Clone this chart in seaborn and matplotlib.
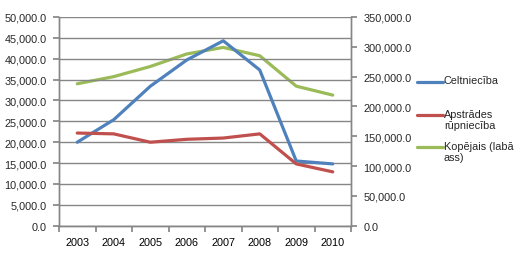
import matplotlib
matplotlib.use("Agg")
import matplotlib.pyplot as plt
from matplotlib.lines import Line2D
from matplotlib.ticker import FuncFormatter, FixedLocator
import seaborn as sns
import pandas as pd
import numpy as np

years = ["2003", "2004", "2005", "2006", "2007", "2008", "2009", "2010"]
celtnieciba = [20000, 25400, 33400, 39700, 44300, 37300, 15500, 14800]
apstrades = [22200, 22000, 20000, 20700, 21000, 22000, 14800, 12900]
kopejais = [238000, 250000, 267000, 288000, 299000, 285000, 234000, 219000]

labels = ["Celtniecība", "Apstrādes\nrūpniecība", "Kopējais (labā\nass)"]
colors = ["#4F81BD", "#C0504D", "#9BBB59"]

sns.set_theme(style="white")
plt.rcParams["font.family"] = ["Liberation Sans", "DejaVu Sans"]
FS = 7.8
plt.rcParams["font.size"] = FS

W, H = 523, 255
fig = plt.figure(figsize=(W / 100, H / 100), dpi=100)
x0, x1, y0, y1 = 59, 351, 18, 226.7
ax = fig.add_axes([x0 / W, 1 - y1 / H, (x1 - x0) / W, (y1 - y0) / H])

pos = list(range(len(years)))
df = pd.DataFrame({
    "pos": pos * 2,
    "value": celtnieciba + apstrades,
    "series": [labels[0]] * len(years) + [labels[1]] * len(years),
})
sns.lineplot(data=df, x="pos", y="value", hue="series", palette=colors[:2],
             linewidth=2.3, ax=ax, legend=False)

ax2 = ax.twinx()
df2 = pd.DataFrame({"pos": pos, "value": kopejais})
sns.lineplot(data=df2, x="pos", y="value", color=colors[2], linewidth=2.3,
             ax=ax2, legend=False)
ax2.set_zorder(ax.get_zorder() - 1)
ax.patch.set_visible(False)
ax.set_zorder(2)

grey = "#868686"
ax.set_xlim(-0.5, len(years) - 0.5)
ax.set_ylim(0, 50000)
ax2.set_ylim(0, 350000)
ax.set_yticks(np.arange(0, 50001, 5000))
ax2.set_yticks(np.arange(0, 350001, 50000))
fmt = FuncFormatter(lambda v, p: f"{v:,.1f}")
ax.yaxis.set_major_formatter(fmt)
ax2.yaxis.set_major_formatter(fmt)

ax.xaxis.set_major_locator(FixedLocator([p - 0.5 for p in pos] + [len(years) - 0.5]))
ax.xaxis.set_major_formatter(FuncFormatter(lambda v, p: ""))
ax.xaxis.set_minor_locator(FixedLocator(pos))
ax.set_xticklabels(years, minor=True)
ax.tick_params(axis="x", which="major", length=4, color=grey, direction="out", bottom=True)
ax.tick_params(axis="x", which="minor", length=0, pad=8, labelsize=FS, colors="black")
ax.tick_params(axis="y", length=4, color=grey, direction="out", left=True, pad=5, labelsize=FS)
ax2.tick_params(axis="y", length=4, color=grey, direction="out", right=True, pad=5, labelsize=FS)

ax.grid(True, axis="y", color=grey, linewidth=1)
ax.grid(False, axis="x")
ax2.grid(False)
for a in (ax, ax2):
    for s in a.spines.values():
        s.set_color(grey)
        s.set_linewidth(1)
    a.spines["top"].set_visible(False)
    a.set_xlabel("")
    a.set_ylabel("")

# legend
leg_y = [83, 116, 148]
for lab, col, yy in zip(labels, colors, leg_y):
    fig.add_artist(Line2D([417 / W, 443 / W], [1 - yy / H, 1 - yy / H],
                          color=col, linewidth=2.3, transform=fig.transFigure))
    fig.text(444 / W, 1 - (yy - 6.5) / H, lab, ha="left", va="top", fontsize=FS,
             linespacing=1.2)

fig.savefig("out.png", dpi=100)
